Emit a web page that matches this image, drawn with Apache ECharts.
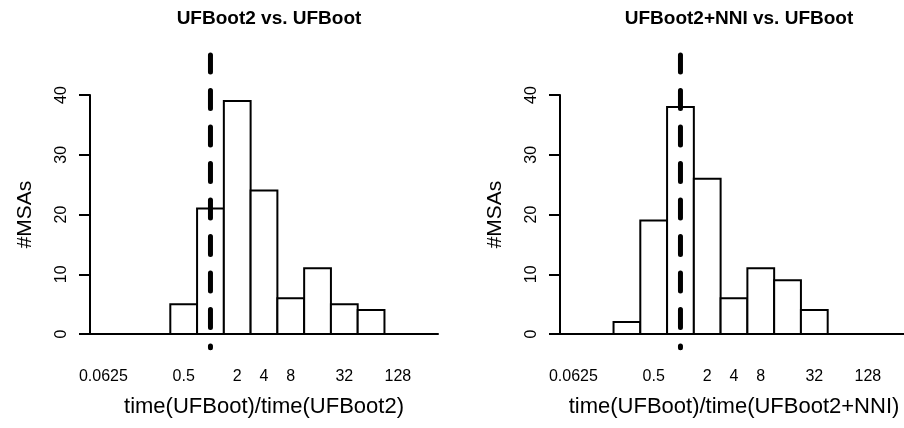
<!DOCTYPE html>
<html>
<head>
<meta charset="utf-8">
<script src="https://cdn.jsdelivr.net/npm/echarts@6/dist/echarts.min.js"></script>
<style>
html, body { margin: 0; padding: 0; background: #fff; }
#chart { width: 904px; height: 428px; }
</style>
</head>
<body>
<div id="chart"></div>
<script>
// bins are centred on log2(ratio), one unit wide
const binCenters = [-4, -3, -2, -1, 0, 1, 2, 3, 4, 5, 6, 7, 8];
const countsUFBoot2 = [0, 0, 0, 5, 21, 39, 24, 6, 11, 5, 4, 0, 0];
const countsUFBoot2NNI = [0, 0, 2, 19, 38, 26, 6, 11, 9, 4, 0, 0, 0];
const xTickPositions = [-4, -1, 1, 2, 3, 5, 7];
const xTickLabels = ['0.0625', '0.5', '2', '4', '8', '32', '128'];
const refLineX = [0];
const titles = ['UFBoot2 vs. UFBoot', 'UFBoot2+NNI vs. UFBoot'];
const xNames = ['time(UFBoot)/time(UFBoot2)', 'time(UFBoot)/time(UFBoot2+NNI)'];
const yName = '#MSAs';

const FONT = 'Liberation Sans';
const chart = echarts.init(document.getElementById('chart'));

function xAxis(i) {
    return {
        type: 'value',
        gridIndex: i,
        min: -4.5,
        max: 8.5,
        name: xNames[i],
        nameLocation: 'middle',
        nameGap: 62,
        nameTextStyle: { color: '#000', fontFamily: FONT, fontSize: 22 },
        axisLine: { show: true, onZero: false, lineStyle: { color: '#000', width: 2 } },
        axisTick: { show: false },
        splitLine: { show: false },
        axisLabel: {
            customValues: xTickPositions,
            formatter: v => xTickLabels[xTickPositions.indexOf(v)],
            margin: 35,
            color: '#000',
            fontFamily: FONT,
            fontSize: 16
        }
    };
}

function yAxis(i) {
    return {
        type: 'value',
        gridIndex: i,
        min: 0,
        max: 40,
        interval: 10,
        name: yName,
        nameLocation: 'middle',
        nameGap: 54,
        nameTextStyle: { color: '#000', fontFamily: FONT, fontSize: 21 },
        axisLine: { show: true, onZero: false, lineStyle: { color: '#000', width: 2 } },
        axisTick: { show: true, length: 11, lineStyle: { color: '#000', width: 2 } },
        splitLine: { show: false },
        axisLabel: {
            rotate: 90,
            margin: 20,
            color: '#000',
            fontFamily: FONT,
            fontSize: 16
        }
    };
}

function histSeries(i, counts) {
    return {
        type: 'custom',
        xAxisIndex: i,
        yAxisIndex: i,
        clip: false,
        data: binCenters.map((c, k) => [c, counts[k]]),
        renderItem: function (params, api) {
            const c = api.value(0);
            const p0 = api.coord([c - 0.5, api.value(1)]);
            const p1 = api.coord([c + 0.5, 0]);
            return {
                type: 'rect',
                shape: { x: p0[0], y: p0[1], width: p1[0] - p0[0], height: p1[1] - p0[1] },
                style: { fill: '#fff', stroke: '#000', lineWidth: 2 }
            };
        },
        z: 2
    };
}

function refSeries(i) {
    return {
        type: 'custom',
        xAxisIndex: i,
        yAxisIndex: i,
        clip: false,
        data: refLineX.map(x => [x]),
        renderItem: function (params, api) {
            const top = api.coord([api.value(0), 46.7]);
            const bot = api.coord([api.value(0), -2.3]);
            return {
                type: 'line',
                shape: { x1: top[0], y1: top[1], x2: bot[0], y2: bot[1] },
                style: { stroke: '#000', lineWidth: 5, lineDash: [18, 18.5], lineDashOffset: 1, lineCap: 'round' }
            };
        },
        z: 5
    };
}

const option = {
    backgroundColor: '#fff',
    animation: false,
    title: [
        { text: titles[0], left: 264, top: 4, textAlign: 'center',
          textStyle: { color: '#000', fontFamily: FONT, fontSize: 19, fontWeight: 'bold' } },
        { text: titles[1], left: 734, top: 4, textAlign: 'center',
          textStyle: { color: '#000', fontFamily: FONT, fontSize: 19, fontWeight: 'bold' } }
    ],
    grid: [
        { left: 90, top: 95, width: 348, height: 239, outerBoundsMode: 'none' },
        { left: 560, top: 95, width: 348, height: 239, outerBoundsMode: 'none' }
    ],
    xAxis: [xAxis(0), xAxis(1)],
    yAxis: [yAxis(0), yAxis(1)],
    series: [
        histSeries(0, countsUFBoot2),
        histSeries(1, countsUFBoot2NNI),
        refSeries(0),
        refSeries(1)
    ]
};

chart.setOption(option);
</script>
</body>
</html>
